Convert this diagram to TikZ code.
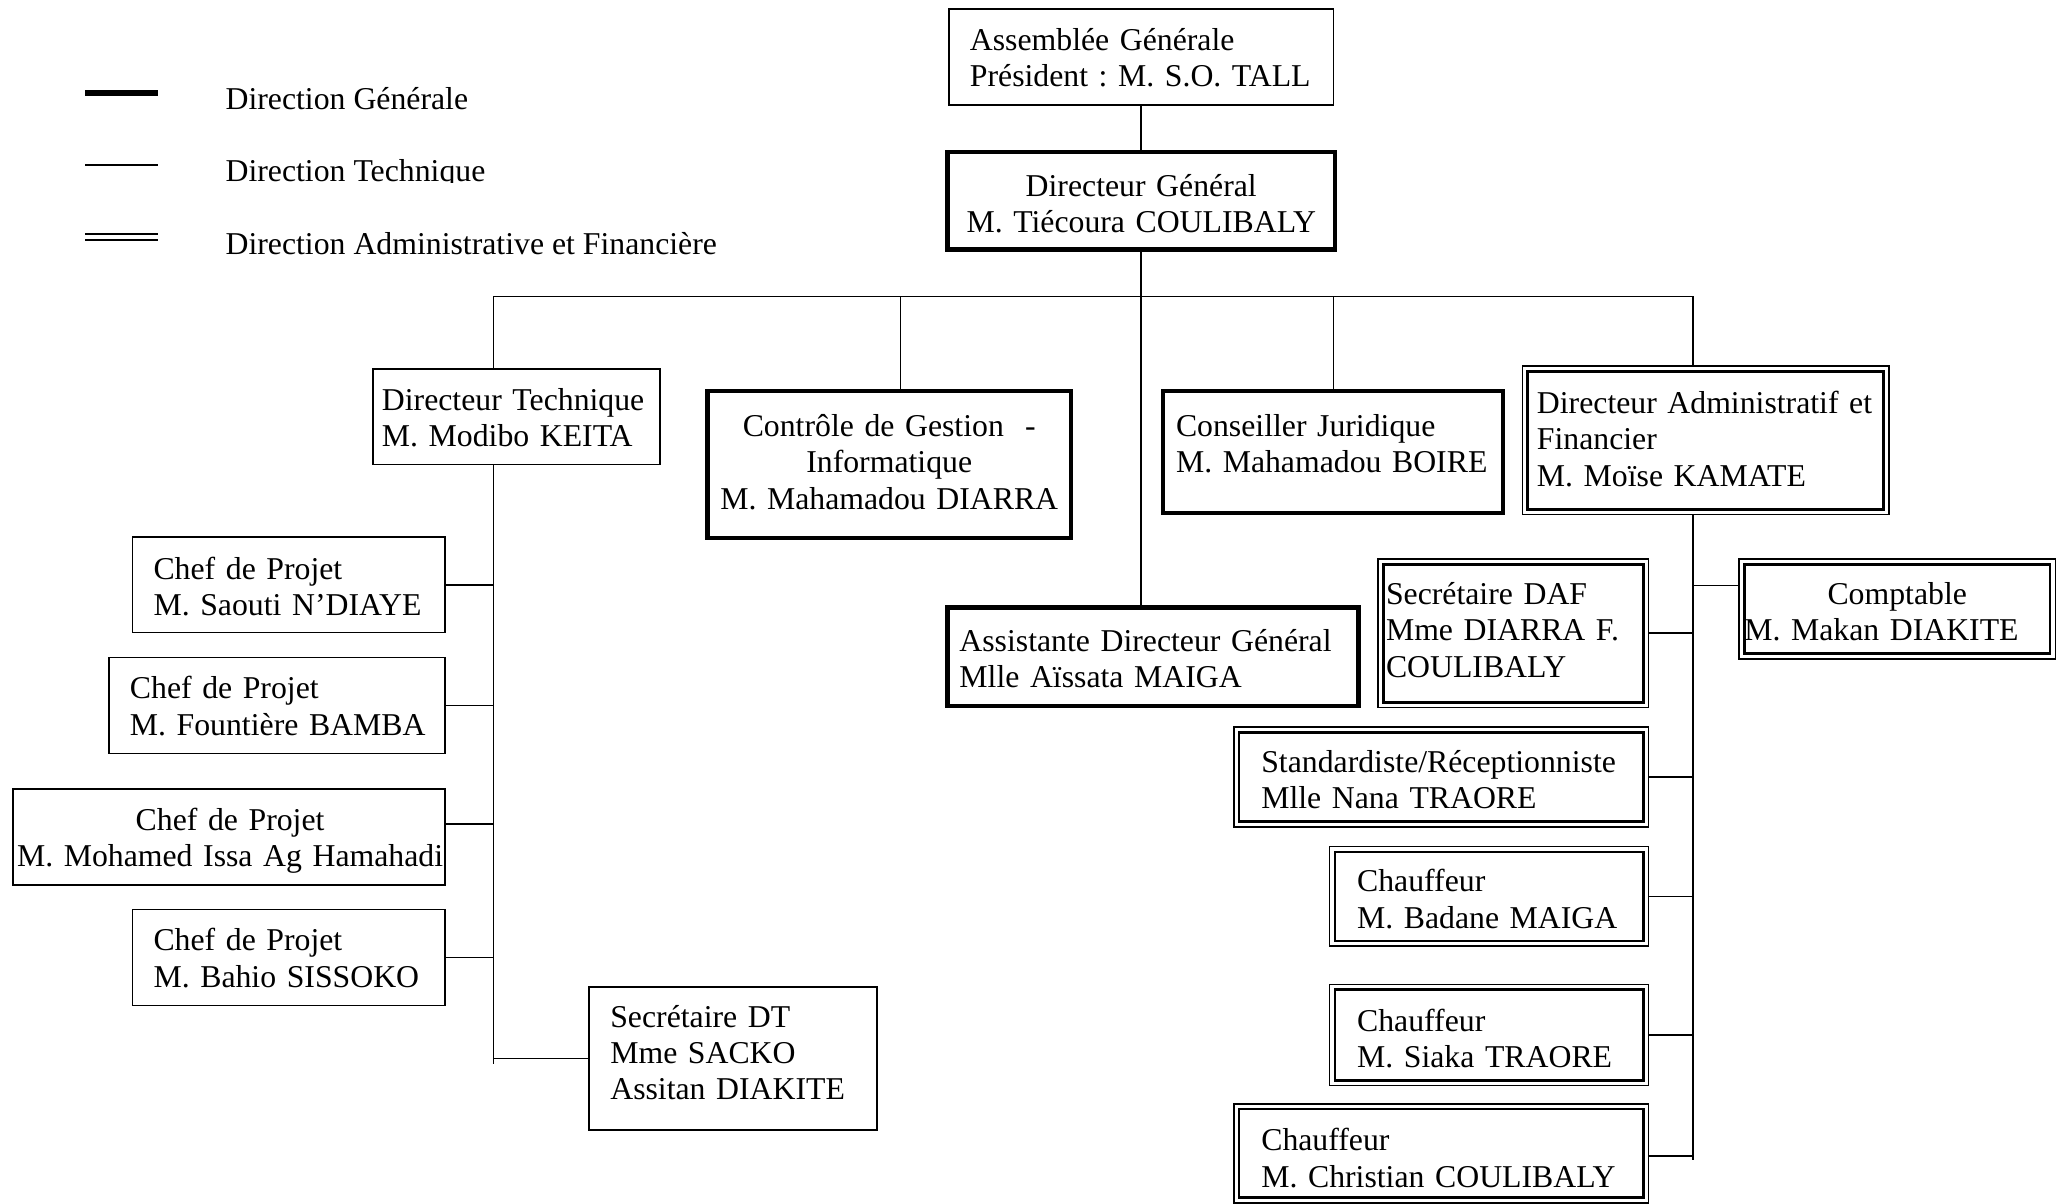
\documentclass[tikz,border=0pt]{standalone}
\usepackage{fontspec}
\setmainfont{Liberation Serif}
\frenchspacing
\newcommand\lbxt[2][0pt]{\raisebox{\dimexpr#1-1.1pt\relax}[\height][\depth]{\begin{tabular}{@{}l@{}}#2\end{tabular}}}
\newcommand\cbxt[2][0pt]{\raisebox{\dimexpr#1-1.1pt\relax}[\height][\depth]{\begin{tabular}{@{}c@{}}#2\end{tabular}}}
\begin{document}
\begin{tikzpicture}[x=0.5pt,y=-0.5pt,
  every node/.style={font=\fontsize{12.1}{13.8}\selectfont},
  bx/.style n args={5}{draw, outer sep=0pt, inner ysep=0pt, minimum width=#1, minimum height=#2, text width=#3, inner xsep=#4, align=#5},
  thinb/.style={line width=0.65pt},
  thickb/.style={line width=1.7pt},
  dblb/.style={line width=0.65pt},
  innerln/.style={line width=1pt},
  conn/.style={line width=0.65pt},
  legend/.style={anchor=base west, inner sep=0pt}]
\fill[white] (0,0) rectangle (1568,917.3);
\useasboundingbox (0,0) rectangle (1568,917.3);

% legend
\draw[line width=2.4pt] (65,71) -- (120,71);
\draw[line width=0.6pt] (65,125.7) -- (120,125.7);
\draw[double, line width=1pt, double distance=1.2pt] (65,180.6) -- (120,180.6);
\node[legend] (lgG) at (171.5,83.3) {Direction Générale};
\begin{scope}
\clip (160,100) rectangle (420,139.4);
\node[legend] (lgT) at (171.5,138.6) {Direction Technique};
\end{scope}
\node[legend] (lgA) at (171.5,193.7) {Direction Administrative et Financière};

% boxes
\node[bx={146.5pt}{36.5pt}{130.5pt}{8pt}{left}, thinb] (AG) at (869.5,43.5) {\lbxt[-0.55pt]{Assemblée Générale\\Président : M. S.O. TALL}};
\node[bx={147.5pt}{37pt}{141.5pt}{3pt}{center}, thickb] (DG) at (869.5,153) {\cbxt[-1.3pt]{Directeur Général\\M. Tiécoura COULIBALY}};
\node[bx={109.5pt}{36.5pt}{102.5pt}{3.5pt}{left}, thinb] (DT) at (393.5,317.5) {\lbxt[-0.55pt]{Directeur Technique\\M. Modibo KEITA}};
\node[bx={138.5pt}{56pt}{132.5pt}{3pt}{center}, thickb] (CG) at (677.5,354) {\cbxt[0.7pt]{Contrôle de Gestion\ \ -\\Informatique\\M. Mahamadou DIARRA}};
\node[bx={129.5pt}{46.5pt}{119.5pt}{5pt}{left}, thickb] (CJ) at (1015.5,344.5) {\lbxt[2.95pt]{Conseiller Juridique\\M. Mahamadou BOIRE}};
\node[bx={139.5pt}{56.5pt}{128.5pt}{5.5pt}{left}, dblb] (DAF) at (1299.5,335.5) {\lbxt[0.2pt]{Directeur Administratif et\\Financier\\M. Moïse KAMATE}};
\node[bx={156.5pt}{37.5pt}{147.5pt}{4.5pt}{left}, thickb] (AS) at (878.5,500.5) {\lbxt[-1.05pt]{Assistante Directeur Général\\Mlle Aïssata MAIGA}};

\node[bx={119pt}{36.5pt}{103pt}{8pt}{left}, thinb] (CP1) at (220,445.5) {\lbxt[-1.05pt]{Chef de Projet\\M. Saouti N’DIAYE}};
\node[bx={128pt}{36.5pt}{112pt}{8pt}{left}, thinb] (CP2) at (211,537.5) {\lbxt[-0.55pt]{Chef de Projet\\M. Fountière BAMBA}};
\node[bx={164.5pt}{36.5pt}{161.5pt}{1.5pt}{center}, thinb] (CP3) at (174.5,637.5) {\cbxt[-0.55pt]{Chef de Projet\\M. Mohamed Issa Ag Hamahadi}};
\node[bx={119pt}{36.5pt}{103pt}{8pt}{left}, thinb] (CP4) at (220,729.5) {\lbxt[-0.55pt]{Chef de Projet\\M. Bahio SISSOKO}};
\node[bx={109.5pt}{54.5pt}{93.5pt}{8pt}{left}, thinb] (SDT) at (558.5,806.5) {\lbxt[1.95pt]{Secrétaire DT\\Mme SACKO\\Assitan DIAKITE}};

\node[bx={120.5pt}{38pt}{116.5pt}{2pt}{center}, dblb] (CO) at (1445.5,464) {\cbxt[-1.3pt]{Comptable\\M. Makan DIAKITE\hspace*{12pt}}};
\node[bx={103pt}{56.5pt}{97pt}{3pt}{left}, dblb] (SDAF) at (1153,482.5) {\lbxt[0.95pt]{Secrétaire DAF\\Mme DIARRA F.\\COULIBALY}};
\node[bx={158pt}{38pt}{137pt}{10.5pt}{left}, dblb] (STD) at (1098,592) {\lbxt[-1.3pt]{Standardiste/Réceptionniste\\Mlle Nana TRAORE}};
\node[bx={121.5pt}{38pt}{100.5pt}{10.5pt}{left}, dblb] (CH1) at (1134.5,683) {\lbxt[-1.3pt]{Chauffeur\\M. Badane MAIGA}};
\node[bx={121.5pt}{38.5pt}{100.5pt}{10.5pt}{left}, dblb] (CH2) at (1134.5,788.5) {\lbxt[-1.55pt]{Chauffeur\\M. Siaka TRAORE}};
\node[bx={158pt}{37.75pt}{137pt}{10.5pt}{left}, dblb] (CH3) at (1098,878.75) {\lbxt[-2.05pt]{Chauffeur\\M. Christian COULIBALY}};

\foreach \n in {DAF,CO,SDAF,STD,CH1,CH2,CH3}
  \draw[innerln] ([shift={(2pt,-2pt)}]\n.north west) rectangle ([shift={(-2pt,2pt)}]\n.south east);

% connectors
\coordinate (busL) at (376,226);
\coordinate (busR) at (1290,226);
\coordinate (busCG) at (686,226);
\coordinate (busCJ) at (1016,226);
\coordinate (dtEnd) at (376,811);
\coordinate (dafEnd) at (1290,884);
\coordinate (b3) at (376,628);
\coordinate (bco) at (1290,446);
\coordinate (bch3) at (1290,880.5);

\draw[conn] (AG.south) -- (DG.north);
\draw[conn] (DG.south) -- (AS.north -| DG.south);
\draw[conn] (DT.north -| busL) -- (busL) -- (busR) -- (DAF.north -| busR);
\draw[conn] (busCG) -- (CG.north -| busCG);
\draw[conn] (busCJ) -- (CJ.north -| busCJ);

\draw[conn] (DT.south -| dtEnd) -- (dtEnd);
\draw[conn] (CP1.east) -- (CP1.east -| dtEnd);
\draw[conn] (CP2.east) -- (CP2.east -| dtEnd);
\draw[conn] (b3) -- (b3 -| CP3.east);
\draw[conn] (CP4.east) -- (CP4.east -| dtEnd);
\draw[conn] (SDT.west) -- (SDT.west -| dtEnd);

\draw[conn] (DAF.south -| dafEnd) -- (dafEnd);
\draw[conn] (bco) -- (bco -| CO.west);
\draw[conn] (SDAF.east) -- (SDAF.east -| dafEnd);
\draw[conn] (STD.east) -- (STD.east -| dafEnd);
\draw[conn] (CH1.east) -- (CH1.east -| dafEnd);
\draw[conn] (CH2.east) -- (CH2.east -| dafEnd);
\draw[conn] (bch3) -- (bch3 -| CH3.east);
\end{tikzpicture}
\end{document}
